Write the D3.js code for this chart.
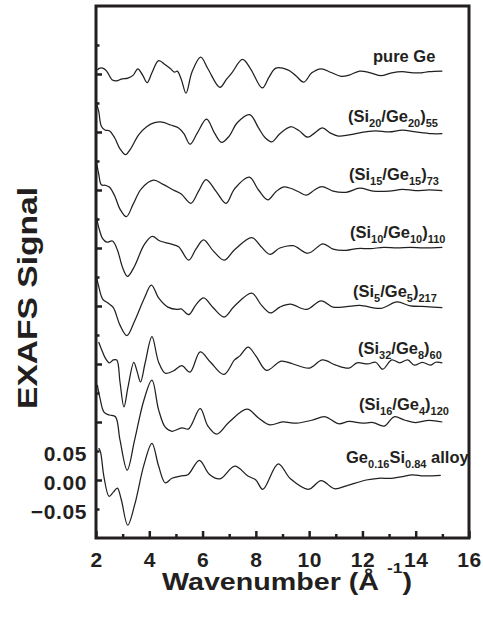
<!DOCTYPE html>
<html>
<head>
<meta charset="utf-8">
<style>
    body { margin: 0; background: #fff; }
    svg { font-family: "Liberation Sans", Arial, sans-serif; font-weight: bold; }
    svg text { fill: #231f20; }
    .curve { fill: none; stroke: #231f20; stroke-width: 1.25px; }
    .frame { fill: none; stroke: #231f20; stroke-width: 3px; }
    .axis path { display: none; }
    .axis line { stroke: #231f20; stroke-width: 2.5px; }
</style>
<script src="https://cdn.jsdelivr.net/npm/d3@7"></script>
</head>
<body>
<div id="chart"></div>
<script>
// wavenumber k (1/A) , EXAFS signal (unshifted)
var pureGe = [[2.05,0.007],[2.15,0.010],[2.25,0.010],[2.4,0.005],[2.6,-0.010],[2.77,-0.012],[2.95,-0.009],[3.2,-0.007],[3.4,-0.002],[3.57,0.009],[3.75,-0.002],[3.92,-0.015],[4.1,0.002],[4.35,0.023],[4.6,0.016],[4.8,0.009],[4.95,0.003],[5.05,0.005],[5.2,-0.009],[5.38,-0.033],[5.6,0.003],[5.93,0.029],[6.2,0.009],[6.65,-0.023],[6.9,-0.009],[7.1,0.002],[7.5,0.025],[7.8,0.009],[8.24,-0.024],[8.5,-0.005],[8.75,0.010],[9.2,0.007],[9.5,-0.003],[9.8,-0.014],[10.1,0.002],[10.45,0.009],[10.8,0.003],[11.2,-0.004],[11.5,-0.002],[11.9,0.005],[12.3,0.002],[12.7,-0.003],[13.1,0.002],[13.5,0.004],[13.9,0.002],[14.2,0.002],[14.5,0.004],[15.0,0.005]];
var si20 = [[2.0,0.052],[2.1,0.036],[2.2,0.010],[2.35,0.003],[2.5,0.002],[2.7,-0.010],[2.9,-0.029],[3.11,-0.039],[3.3,-0.029],[3.6,-0.005],[3.9,0.009],[4.2,0.016],[4.48,0.017],[4.8,0.012],[5.1,0.007],[5.3,-0.003],[5.53,-0.021],[5.8,-0.002],[6.15,0.022],[6.45,-0.002],[6.71,-0.018],[7.0,-0.007],[7.3,0.016],[7.77,0.030],[8.1,0.007],[8.35,-0.010],[8.6,-0.017],[8.9,-0.003],[9.3,0.009],[9.6,0.003],[9.95,-0.009],[10.2,-0.002],[10.5,0.007],[10.8,-0.002],[11.1,-0.007],[11.5,-0.005],[12.1,0.000],[12.5,0.002],[13.0,0.000],[13.5,0.003],[14.0,0.000],[14.6,-0.003],[15.0,-0.003]];
var si15 = [[2.0,0.053],[2.1,0.028],[2.2,0.009],[2.35,0.008],[2.5,0.005],[2.7,-0.010],[2.9,-0.033],[3.14,-0.046],[3.4,-0.024],[3.7,0.002],[4.16,0.017],[4.5,0.010],[4.9,0.000],[5.2,-0.007],[5.56,-0.023],[5.85,-0.002],[6.13,0.018],[6.5,-0.002],[6.88,-0.023],[7.2,0.002],[7.75,0.022],[8.1,0.000],[8.45,-0.017],[8.75,-0.003],[9.02,0.005],[9.3,0.003],[9.6,-0.003],[9.9,-0.009],[10.2,0.000],[10.48,0.006],[10.9,-0.002],[11.38,-0.004],[11.9,0.003],[12.4,-0.002],[13.0,-0.002],[13.5,0.001],[14.0,-0.001],[14.5,0.000],[15.0,-0.001]];
var si10 = [[2.0,0.057],[2.1,0.036],[2.25,0.016],[2.4,0.010],[2.62,0.012],[2.8,-0.003],[3.0,-0.034],[3.18,-0.049],[3.45,-0.031],[3.8,0.005],[4.11,0.020],[4.4,0.012],[4.8,0.007],[5.1,0.002],[5.48,-0.021],[5.75,-0.002],[6.04,0.014],[6.4,-0.005],[6.81,-0.021],[7.2,-0.003],[7.85,0.018],[8.2,0.002],[8.53,-0.011],[8.9,0.000],[9.4,0.004],[9.96,-0.009],[10.52,0.007],[10.9,-0.002],[11.39,-0.004],[11.8,-0.001],[12.3,-0.001],[12.8,0.001],[13.3,0.000],[13.8,0.001],[14.3,0.000],[15.0,0.001]];
var si5 = [[2.0,0.055],[2.1,0.034],[2.25,0.012],[2.45,0.005],[2.65,-0.003],[2.9,-0.033],[3.16,-0.051],[3.45,-0.026],[3.8,0.012],[4.08,0.036],[4.35,0.014],[4.7,-0.002],[5.05,-0.006],[5.2,-0.005],[5.48,-0.015],[5.75,0.002],[6.04,0.014],[6.4,-0.003],[6.81,-0.019],[7.2,0.000],[7.85,0.022],[8.2,0.002],[8.55,-0.012],[8.9,-0.002],[9.3,0.003],[9.9,-0.006],[10.45,0.009],[10.9,-0.002],[11.4,-0.001],[11.9,0.001],[12.7,-0.004],[13.3,0.007],[13.8,0.000],[14.4,-0.001],[15.0,-0.003]];
var si32 = [[2.1,0.038],[2.2,0.026],[2.35,0.010],[2.5,0.002],[2.65,0.007],[2.78,0.007],[2.9,-0.031],[3.05,-0.074],[3.2,-0.040],[3.42,0.003],[3.55,-0.014],[3.67,-0.031],[3.85,0.003],[4.1,0.047],[4.35,0.003],[4.6,-0.016],[4.9,-0.012],[5.22,-0.003],[5.53,-0.014],[5.91,0.021],[6.3,0.003],[6.8,-0.018],[7.2,0.007],[7.4,0.014],[7.71,0.029],[8.0,0.014],[8.4,-0.011],[8.95,0.005],[9.4,0.000],[10.0,-0.007],[10.5,0.007],[11.0,-0.002],[11.5,-0.007],[11.8,0.002],[12.2,0.000],[12.5,0.003],[12.76,-0.009],[13.1,0.007],[13.4,0.002],[13.7,0.007],[13.95,-0.002],[14.25,0.003],[14.55,-0.002],[14.75,0.003],[15.0,0.002]];
var si16 = [[2.05,0.064],[2.15,0.041],[2.3,0.017],[2.5,0.012],[2.73,0.009],[2.9,-0.031],[3.17,-0.083],[3.45,-0.031],[3.8,0.038],[4.1,0.072],[4.35,0.021],[4.6,-0.009],[4.85,-0.016],[5.22,-0.010],[5.47,-0.012],[5.91,0.023],[6.2,-0.007],[6.53,-0.021],[7.0,0.000],[7.67,0.022],[8.1,0.007],[8.52,-0.005],[9.0,0.000],[9.53,-0.002],[10.1,0.003],[10.6,0.009],[11.1,-0.003],[11.5,0.001],[12.0,-0.002],[12.4,-0.001],[12.82,-0.007],[13.19,0.009],[13.6,0.003],[14.0,-0.001],[14.5,0.003],[15.0,0.000]];
var alloy = [[2.1,0.055],[2.17,0.048],[2.3,0.005],[2.49,-0.028],[2.65,-0.021],[2.8,-0.014],[2.95,-0.034],[3.19,-0.078],[3.45,-0.043],[3.8,0.026],[4.1,0.063],[4.35,0.024],[4.6,-0.005],[4.85,0.003],[5.2,0.007],[5.45,0.009],[5.88,0.034],[6.25,0.010],[6.65,0.002],[7.21,0.024],[7.7,0.007],[8.0,0.000],[8.26,-0.016],[8.84,0.028],[9.3,0.002],[9.98,-0.016],[10.45,-0.001],[10.95,-0.015],[11.4,-0.010],[12.14,0.000],[12.6,0.003],[13.1,0.003],[13.5,0.006],[13.88,0.009],[14.3,0.007],[14.94,0.008]];

var series = [pureGe, si20, si15, si10, si5, si32, si16, alloy];
var offsets = [0.7, 0.6, 0.5, 0.4, 0.3, 0.2, 0.1, 0];
var names = ["pure Ge", "(Si_{20}/Ge_{20})_{55}", "(Si_{15}/Ge_{15})_{73}", "(Si_{10}/Ge_{10})_{110}",
             "(Si_{5}/Ge_{5})_{217}", "(Si_{32}/Ge_{8})_{60}", "(Si_{16}/Ge_{4})_{120}", "Ge_{0.16}Si_{0.84} alloy"];

var xMajor = [2, 4, 6, 8, 10, 12, 14, 16];
var xMinor = [3, 5, 7, 9, 11, 13, 15];
var yMajor = [0, 0.1, 0.2, 0.3, 0.4, 0.5, 0.6, 0.7];
var yMinor = [-0.05, 0.05, 0.15, 0.25, 0.35, 0.45, 0.55, 0.65, 0.75];
var yLabeled = [-0.05, 0, 0.05];

// label placement (pixels): left x and rise above the curve baseline
var labelX = [373, 348, 349, 350, 353, 358, 359, 346];
var labelRise = [12, 10, 10, 10, 9, 10, 11.5, 17];

var W = 483, H = 622;
var m = { left: 96, right: 469, top: 6, bottom: 538 };

var x = d3.scaleLinear().domain([2, 16]).range([m.left, m.right]);
var y = d3.scaleLinear().domain([-0.1, 0.8172]).range([m.bottom, m.top]);

var svg = d3.select("#chart").append("svg")
    .attr("width", W)
    .attr("height", H);

// curves
var line = d3.line()
    .x(function (d) { return x(d[0]); })
    .y(function (d) { return y(d[1]); })
    .curve(d3.curveCatmullRom.alpha(0.5));

series.forEach(function (s, i) {
    svg.append("path")
        .datum(s.map(function (d) { return [d[0], d[1] + offsets[i]]; }))
        .attr("class", "curve")
        .attr("d", line);
});

// ticks (inward)
svg.append("g").attr("class", "axis")
    .attr("transform", "translate(0," + m.bottom + ")")
    .call(d3.axisBottom(x).tickValues(xMajor).tickSize(-7).tickFormat(""));
svg.append("g").attr("class", "axis")
    .attr("transform", "translate(0," + m.bottom + ")")
    .call(d3.axisBottom(x).tickValues(xMinor).tickSize(-4).tickFormat(""));
svg.append("g").attr("class", "axis")
    .attr("transform", "translate(" + m.left + ",0)")
    .call(d3.axisLeft(y).tickValues(yMajor).tickSize(-6).tickFormat(""));
svg.append("g").attr("class", "axis")
    .attr("transform", "translate(" + m.left + ",0)")
    .call(d3.axisLeft(y).tickValues(yMinor).tickSize(-3.5).tickFormat(""));

// tick labels
var xl = svg.append("g").attr("class", "axis")
    .attr("transform", "translate(0," + m.bottom + ")")
    .call(d3.axisBottom(x).tickValues(xMajor).tickSize(0).tickPadding(14).tickFormat(d3.format("d")));
xl.attr("font-family", null).attr("font-size", null);
xl.selectAll("text").attr("font-size", 21).attr("fill", null).style("letter-spacing", "0.5px");

var yl = svg.append("g").attr("class", "axis")
    .attr("transform", "translate(" + m.left + ",0)")
    .call(d3.axisLeft(y).tickValues(yLabeled).tickSize(0).tickPadding(9).tickFormat(d3.format(".2f")));
yl.attr("font-family", null).attr("font-size", null);
yl.selectAll("text").attr("font-size", 21).attr("dy", "0.44em").attr("fill", null)
    .style("letter-spacing", "0.6px");

svg.append("rect")
    .attr("class", "frame")
    .attr("x", m.left).attr("y", m.top)
    .attr("width", m.right - m.left).attr("height", m.bottom - m.top);

// curve labels with subscripts
names.forEach(function (name, i) {
    var t = svg.append("text")
        .attr("x", labelX[i])
        .attr("y", y(offsets[i]) - labelRise[i])
        .attr("font-size", 16.5);
    var parts = name.split(/(_\{[^}]*\})/).filter(function (p) { return p.length; });
    var down = false;
    parts.forEach(function (p) {
        if (p[0] === "_") {
            t.append("tspan").attr("font-size", 11).attr("dy", down ? 0 : 5).text(p.slice(2, -1));
            down = true;
        } else {
            t.append("tspan").attr("dy", down ? -5 : 0).text(p);
            down = false;
        }
    });
});

// axis titles
var xt = svg.append("text")
    .attr("x", 162).attr("y", 590)
    .attr("font-size", 23)
    .attr("textLength", 250).attr("lengthAdjust", "spacingAndGlyphs");
xt.append("tspan").text("Wavenumber (Å ");
xt.append("tspan").attr("font-size", 14).attr("dy", -17).text("-1");
xt.append("tspan").attr("dy", 17).text(")");

svg.append("text")
    .attr("transform", "translate(37,298) rotate(-90)")
    .attr("text-anchor", "middle")
    .attr("font-size", 28)
    .attr("textLength", 222).attr("lengthAdjust", "spacingAndGlyphs")
    .text("EXAFS Signal");
</script>
</body>
</html>
